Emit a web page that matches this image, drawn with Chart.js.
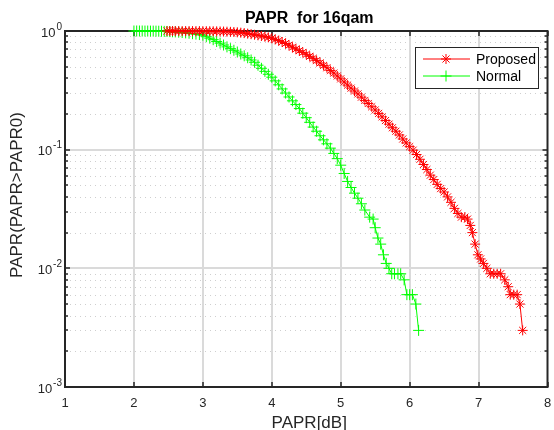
<!DOCTYPE html>
<html>
<head>
<meta charset="utf-8">
<title>PAPR for 16qam</title>
<script src="https://cdn.jsdelivr.net/npm/chart.js@4.4.1/dist/chart.umd.min.js"></script>
<style>
  html, body { margin: 0; padding: 0; background: #fff; }
  #wrap { width: 554px; height: 430px; position: relative; }
</style>
</head>
<body>
<div id="wrap"><canvas id="papr"></canvas></div>
<script>
// values (CCDF of PAPR)
const proposedX = [2.48, 2.52, 2.56, 2.60, 2.65, 2.70, 2.75, 2.80, 2.85, 2.90, 2.95, 3.00, 3.05, 3.10, 3.15, 3.20,
  3.25, 3.30, 3.35, 3.40, 3.45, 3.50, 3.55, 3.60, 3.65, 3.70, 3.75, 3.80, 3.85, 3.90, 3.95, 4.00, 4.05, 4.10,
  4.15, 4.20, 4.25, 4.30, 4.35, 4.40, 4.45, 4.50, 4.55, 4.60, 4.65, 4.70, 4.75, 4.80, 4.85, 4.90, 4.95, 5.00,
  5.05, 5.10, 5.15, 5.20, 5.25, 5.30, 5.35, 5.40, 5.45, 5.50, 5.55, 5.60, 5.65, 5.70, 5.75, 5.80, 5.85, 5.90,
  5.95, 6.00, 6.05, 6.10, 6.15, 6.20, 6.25, 6.30, 6.35, 6.40, 6.45, 6.50, 6.55, 6.60, 6.65, 6.70, 6.75, 6.80,
  6.84, 6.88, 6.91, 6.95, 6.99, 7.03, 7.07, 7.12, 7.17, 7.22, 7.27, 7.32, 7.38, 7.43, 7.46, 7.51, 7.56, 7.60, 7.64];
const proposedY = [1.000, 1.000, 1.000, 1.000, 1.000, 0.999, 0.999, 0.999, 0.998, 0.998, 0.998, 0.997, 0.996, 0.995, 0.994, 0.993,
  0.991, 0.989, 0.987, 0.984, 0.980, 0.975, 0.968, 0.960, 0.950, 0.940, 0.930, 0.920, 0.908, 0.896, 0.884, 0.868, 0.850, 0.830,
  0.808, 0.785, 0.760, 0.730, 0.705, 0.682, 0.660, 0.636, 0.612, 0.588, 0.563, 0.538, 0.513, 0.490, 0.465, 0.442, 0.418, 0.395,
  0.372, 0.350, 0.330, 0.312, 0.295, 0.277, 0.260, 0.245, 0.230, 0.216, 0.202, 0.189, 0.176, 0.164, 0.153, 0.143, 0.133, 0.123,
  0.114, 0.106, 0.099, 0.091, 0.083, 0.075, 0.068, 0.061, 0.056, 0.051, 0.047, 0.044, 0.040, 0.036, 0.032, 0.029, 0.027, 0.027,
  0.026, 0.023, 0.020, 0.016, 0.013, 0.012, 0.011, 0.010, 0.009, 0.009, 0.009, 0.009, 0.008, 0.007, 0.006, 0.006, 0.006, 0.005, 0.003];

const normalX = [2.00, 2.04, 2.08, 2.12, 2.16, 2.20, 2.24, 2.28, 2.32, 2.36, 2.40, 2.44, 2.48, 2.52, 2.56, 2.60, 2.65, 2.70,
  2.75, 2.80, 2.85, 2.90, 2.95, 3.00, 3.05, 3.10, 3.15, 3.20, 3.25, 3.30, 3.35, 3.40, 3.45, 3.50, 3.55, 3.60, 3.65, 3.70,
  3.75, 3.80, 3.85, 3.90, 3.95, 4.00, 4.05, 4.10, 4.15, 4.20, 4.25, 4.30, 4.35, 4.40, 4.45, 4.50, 4.55, 4.60, 4.65, 4.70,
  4.75, 4.80, 4.85, 4.90, 4.95, 5.00, 5.05, 5.10, 5.15, 5.20, 5.25, 5.30, 5.35, 5.42, 5.47, 5.50, 5.54, 5.58, 5.62, 5.66,
  5.70, 5.74, 5.78, 5.83, 5.87, 5.92, 5.96, 6.00, 6.04, 6.09, 6.13];
const normalY = [1.000, 1.000, 1.000, 1.000, 0.999, 0.999, 0.998, 0.998, 0.997, 0.996, 0.995, 0.993, 0.991, 0.988, 0.985, 0.982, 0.977, 0.971,
  0.964, 0.957, 0.949, 0.941, 0.933, 0.922, 0.895, 0.870, 0.845, 0.815, 0.790, 0.762, 0.735, 0.710, 0.688, 0.665, 0.640, 0.618, 0.595, 0.570,
  0.545, 0.515, 0.485, 0.457, 0.432, 0.408, 0.380, 0.352, 0.325, 0.300, 0.278, 0.258, 0.240, 0.222, 0.203, 0.186, 0.170, 0.155, 0.143, 0.131,
  0.121, 0.112, 0.103, 0.093, 0.084, 0.074, 0.063, 0.054, 0.048, 0.043, 0.039, 0.035, 0.031, 0.027, 0.026, 0.022, 0.018, 0.016, 0.013, 0.011,
  0.010, 0.009, 0.009, 0.009, 0.009, 0.008, 0.006, 0.006, 0.006, 0.005, 0.003];

const xTicks = [1, 2, 3, 4, 5, 6, 7, 8];
const yDecades = [0.001, 0.01, 0.1, 1];
const yExponents = ['-3', '-2', '-1', '0'];
const seriesNames = ['Proposed', 'Normal'];

const FONT = '"Liberation Sans", Arial, Helvetica, sans-serif';
const AXIS_COLOR = '#262626';

const toPoints = (xs, ys) => xs.map((x, i) => ({ x: x, y: ys[i] }));

// gridlines + box, drawn under the curves
const matlabAxes = {
  id: 'matlabAxes',
  beforeDatasetsDraw(chart) {
    const { ctx, chartArea: a, scales: { x, y } } = chart;
    ctx.save();
    // minor (dotted) horizontal grid
    ctx.strokeStyle = '#cfcfcf';
    ctx.lineWidth = 1;
    ctx.setLineDash([1, 4]);
    for (let d = 0; d < yDecades.length - 1; d++) {
      for (let k = 2; k <= 9; k++) {
        const py = Math.round(y.getPixelForValue(yDecades[d] * k)) + 0.5;
        ctx.beginPath(); ctx.moveTo(a.left, py); ctx.lineTo(a.right, py); ctx.stroke();
      }
    }
    ctx.setLineDash([]);
    // major grid
    ctx.strokeStyle = '#dadada';
    ctx.lineWidth = 2;
    xTicks.slice(1, -1).forEach(t => {
      const px = Math.round(x.getPixelForValue(t));
      ctx.beginPath(); ctx.moveTo(px, a.top); ctx.lineTo(px, a.bottom); ctx.stroke();
    });
    yDecades.slice(1, -1).forEach(t => {
      const py = Math.round(y.getPixelForValue(t));
      ctx.beginPath(); ctx.moveTo(a.left, py); ctx.lineTo(a.right, py); ctx.stroke();
    });
    // tick marks, pointing inward
    ctx.strokeStyle = AXIS_COLOR;
    ctx.lineWidth = 1.5;
    xTicks.forEach(t => {
      const px = Math.round(x.getPixelForValue(t));
      ctx.beginPath();
      ctx.moveTo(px, a.bottom); ctx.lineTo(px, a.bottom - 5);
      ctx.moveTo(px, a.top); ctx.lineTo(px, a.top + 5);
      ctx.stroke();
    });
    for (let d = 0; d < yDecades.length; d++) {
      const kMax = d === yDecades.length - 1 ? 1 : 9;
      for (let k = 1; k <= kMax; k++) {
        const py = Math.round(y.getPixelForValue(yDecades[d] * k));
        const len = k === 1 ? 5 : 3;
        ctx.beginPath();
        ctx.moveTo(a.left, py); ctx.lineTo(a.left + len, py);
        ctx.moveTo(a.right, py); ctx.lineTo(a.right - len, py);
        ctx.stroke();
      }
    }
    // box
    ctx.lineWidth = 2;
    ctx.strokeRect(a.left, a.top, a.right - a.left, a.bottom - a.top);
    ctx.restore();
  },
  afterDraw(chart) {
    const { ctx, chartArea: a, scales: { x, y } } = chart;
    ctx.save();
    ctx.fillStyle = AXIS_COLOR;
    // x tick labels
    ctx.font = '13px ' + FONT;
    ctx.textAlign = 'center';
    ctx.textBaseline = 'middle';
    xTicks.forEach(t => ctx.fillText(String(t), x.getPixelForValue(t), a.bottom + 16));
    // y tick labels: 10 with superscript exponent
    yDecades.forEach((t, i) => {
      const py = y.getPixelForValue(t);
      ctx.font = '10px ' + FONT;
      ctx.textAlign = 'right';
      ctx.textBaseline = 'middle';
      const ew = ctx.measureText(yExponents[i]).width;
      ctx.fillText(yExponents[i], a.left - 3, py - 4);
      ctx.font = '13px ' + FONT;
      ctx.fillText('10', a.left - 4 - ew, py + 2);
    });
    // axis labels
    ctx.font = '17px ' + FONT;
    ctx.textAlign = 'center';
    ctx.fillText('PAPR[dB]', (a.left + a.right) / 2 + 3, a.bottom + 36);
    ctx.save();
    ctx.translate(17, (a.top + a.bottom) / 2 - 14);
    ctx.rotate(-Math.PI / 2);
    ctx.fillText('PAPR(PAPR>PAPR0)', 0, 0);
    ctx.restore();
    // title
    ctx.fillStyle = '#000';
    ctx.font = 'bold 16px ' + FONT;
    ctx.fillText('PAPR  for 16qam', (a.left + a.right) / 2 + 3, a.top - 12);

    // legend box in the upper right corner
    const bx = 415, by = 47, bw = 123, bh = 41;
    ctx.fillStyle = '#fff';
    ctx.fillRect(bx, by, bw, bh);
    ctx.strokeStyle = AXIS_COLOR;
    ctx.lineWidth = 1;
    ctx.strokeRect(bx + 0.5, by + 0.5, bw, bh);
    chart.data.datasets.forEach((ds, i) => {
      const ly = by + 12 + i * 17;
      ctx.strokeStyle = ds.borderColor;
      ctx.lineWidth = 1;
      ctx.beginPath(); ctx.moveTo(bx + 8, ly); ctx.lineTo(bx + 55, ly); ctx.stroke();
      Chart.helpers.drawPoint(ctx, {
        pointStyle: ds.pointStyle, radius: ds.pointRadius, rotation: 0, borderWidth: 1
      }, bx + 31, ly);
      ctx.fillStyle = '#000';
      ctx.font = '14px ' + FONT;
      ctx.textAlign = 'left';
      ctx.textBaseline = 'middle';
      ctx.fillText(ds.label, bx + 61, ly + 1);
    });
    ctx.restore();
  }
};

new Chart(document.getElementById('papr'), {
  type: 'scatter',
  data: {
    datasets: [
      {
        label: seriesNames[0],
        data: toPoints(proposedX, proposedY),
        showLine: true,
        borderColor: 'rgb(255,0,0)',
        backgroundColor: 'rgb(255,0,0)',
        borderWidth: 1,
        pointStyle: 'star',
        pointRadius: 5,
        pointBorderWidth: 1,
        clip: false
      },
      {
        label: seriesNames[1],
        data: toPoints(normalX, normalY),
        showLine: true,
        borderColor: 'rgb(0,255,0)',
        backgroundColor: 'rgb(0,255,0)',
        borderWidth: 1,
        pointStyle: 'cross',
        pointRadius: 5.5,
        pointBorderWidth: 1,
        clip: false
      }
    ]
  },
  options: {
    responsive: true,
    maintainAspectRatio: false,
    animation: false,
    layout: { padding: { left: 0, right: 3, top: 31, bottom: 0 } },
    plugins: { legend: { display: false }, tooltip: { enabled: false } },
    scales: {
      x: {
        type: 'linear', min: 1, max: 8,
        grid: { display: false }, border: { display: false },
        ticks: { display: false },
        afterFit: s => { s.height = 43; }
      },
      y: {
        type: 'logarithmic', min: 0.001, max: 1,
        grid: { display: false }, border: { display: false },
        ticks: { display: false },
        afterFit: s => { s.width = 65; }
      }
    }
  },
  plugins: [matlabAxes]
});
</script>
</body>
</html>
